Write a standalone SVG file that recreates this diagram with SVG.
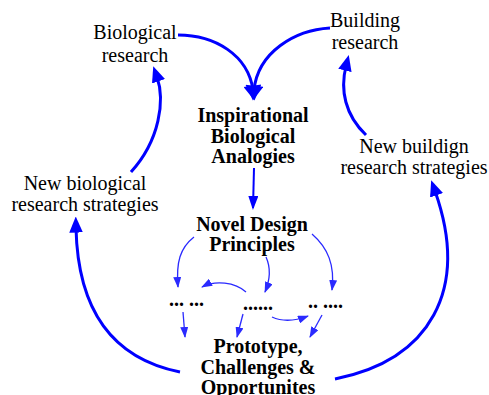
<svg xmlns="http://www.w3.org/2000/svg" width="489" height="395" viewBox="0 0 489 395">
<style>
text{font-family:"Liberation Serif","Times New Roman",serif;font-size:20px;fill:#000;text-anchor:middle}
.b{font-weight:bold}
.d{text-anchor:start;font-weight:bold}
.thick{fill:none;stroke:#0000ff;stroke-width:3}
.med{fill:none;stroke:#0000ff;stroke-width:2}
.thin{fill:none;stroke:#2a2aff;stroke-width:1.3}
</style>
<defs>
<marker id="ah" markerUnits="userSpaceOnUse" markerWidth="16" markerHeight="16" viewBox="0 0 14 12" refX="4" refY="6" orient="auto">
<path d="M0,0 L14,6 L0,12 z" fill="#0000ff"/>
</marker>
<marker id="ahBig" markerUnits="userSpaceOnUse" markerWidth="16" markerHeight="18" viewBox="0 0 14 17" refX="4" refY="8.5" orient="auto">
<path d="M0,0 L14,8.5 L0,17 z" fill="#0000ff"/>
</marker>
<marker id="ahM" markerUnits="userSpaceOnUse" markerWidth="14" markerHeight="10" viewBox="0 0 14 10" refX="12" refY="5" orient="auto">
<path d="M0,0 L14,5 L0,10 z" fill="#0000ff"/>
</marker>
<marker id="ahT" markerUnits="userSpaceOnUse" markerWidth="11" markerHeight="8" viewBox="0 0 11 8" refX="10" refY="4" orient="auto">
<path d="M0,0 L11,4 L0,8 z" fill="#2a2aff"/>
</marker>
</defs>

<g id="connectors">
<path class="thick" d="M178,35 C215,35 248,55 253,90" marker-end="url(#ahBig)"/>
<path class="thick" d="M330,28 C295,30 258,52 254,90" marker-end="url(#ahBig)"/>
<path class="med" d="M254,168 L253,208" marker-end="url(#ahM)"/>
<path class="thick" d="M131,172 C160,140 165,100 157,77" marker-end="url(#ah)"/>
<path class="thick" d="M366,135 C345,115 340,90 346,66" marker-end="url(#ah)"/>
<path class="thick" d="M180,372 C120,360 78,320 76,228" marker-end="url(#ah)"/>
<path class="thick" d="M335,379 C430,360 470,290 435,191" marker-end="url(#ah)"/>
<path class="thin" d="M194,237 C180,248 176,262 178,287" marker-end="url(#ahT)"/>
<path class="thin" d="M266,257 C271,268 270,280 265,292" marker-end="url(#ahT)"/>
<path class="thin" d="M312,234 C328,248 335,265 332,290" marker-end="url(#ahT)"/>
<path class="thin" d="M246,292 C235,282 215,280 202,287" marker-end="url(#ahT)"/>
<path class="thin" d="M272,317 C283,322 295,321 308,316" marker-end="url(#ahT)"/>
<path class="thin" d="M183,312 L185,337" marker-end="url(#ahT)"/>
<path class="thin" d="M243,314 L237,337" marker-end="url(#ahT)"/>
<path class="thin" d="M322,315 L310,337" marker-end="url(#ahT)"/>
</g>

<g id="bio-research"><text x="135" y="39">Biological</text><text x="135" y="62">research</text></g>
<g id="building-research"><text x="365" y="27">Building</text><text x="365" y="49">research</text></g>
<g id="new-bio"><text x="85" y="190">New biological</text><text x="85" y="211">research strategies</text></g>
<g id="new-building"><text x="414" y="153">New buildign</text><text x="414" y="174">research strategies</text></g>
<g id="inspirational"><text class="b" x="253" y="122">Inspirational</text><text class="b" x="253" y="142.5">Biological</text><text class="b" x="253" y="163">Analogies</text></g>
<g id="novel"><text class="b" x="252" y="231">Novel Design</text><text class="b" x="252" y="251">Principles</text></g>
<g id="dots1"><text class="d" x="169" y="306">... ...</text></g>
<g id="dots2"><text class="d" x="243" y="310">......</text></g>
<g id="dots3"><text class="d" x="308" y="308">.. ....</text></g>
<g id="prototype"><text class="b" x="258" y="353">Prototype,</text><text class="b" x="258" y="373.5">Challenges &amp;</text><text class="b" x="258" y="394">Opportunites</text></g>
</svg>
